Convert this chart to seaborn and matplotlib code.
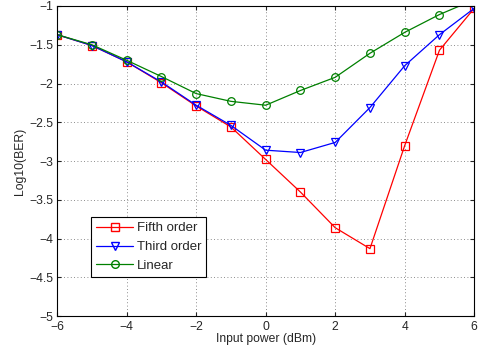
import matplotlib
matplotlib.use("Agg")
import matplotlib.pyplot as plt
from matplotlib.lines import Line2D
import pandas as pd
import seaborn as sns

power = [-6, -5, -4, -3, -2, -1, 0, 1, 2, 3, 4, 5, 6]
fifth = [-1.37, -1.51, -1.72, -1.99, -2.29, -2.56, -2.98, -3.40, -3.86, -4.13, -2.80, -1.57, -1.03]
third = [-1.37, -1.51, -1.72, -1.98, -2.28, -2.54, -2.86, -2.89, -2.76, -2.31, -1.77, -1.37, -1.03]
linear = [-1.37, -1.50, -1.70, -1.91, -2.13, -2.23, -2.28, -2.09, -1.92, -1.61, -1.34, -1.11, -0.92]

names = ['Fifth order', 'Third order', 'Linear']
colors = {'Fifth order': 'red', 'Third order': 'blue', 'Linear': 'green'}
markers = {'Fifth order': 's', 'Third order': 'v', 'Linear': 'o'}

df = pd.concat([
    pd.DataFrame({'power': power, 'ber': vals, 'scheme': name})
    for name, vals in zip(names, [fifth, third, linear])
])

sns.set_style("ticks")
plt.rcParams['font.family'] = ['Liberation Sans', 'DejaVu Sans']

fig = plt.figure(figsize=(4.8, 3.52), dpi=100)
ax = fig.add_axes([0.119, 0.102, 0.869, 0.881])

sns.lineplot(
    data=df, x='power', y='ber', hue='scheme', style='scheme',
    palette=colors, markers=markers, dashes=False, ax=ax,
    linewidth=0.9, markersize=5.5, legend=False
)
# hollow markers, edge in the line colour
for line in ax.get_lines():
    line.set_markeredgecolor(line.get_color())
    line.set_markerfacecolor('none')
    line.set_markeredgewidth(0.9)

ax.set_xlim(-6, 6)
ax.set_ylim(-5, -1)
ax.set_xticks(range(-6, 7, 2))
ax.set_yticks([-5, -4.5, -4, -3.5, -3, -2.5, -2, -1.5, -1])
ax.set_yticklabels(['\u22125', '\u22124.5', '\u22124', '\u22123.5', '\u22123',
                    '\u22122.5', '\u22122', '\u22121.5', '\u22121'])
ax.set_xticklabels(['\u22126', '\u22124', '\u22122', '0', '2', '4', '6'])
ax.grid(True, linestyle=(0, (1, 3)), color='black', linewidth=0.6, alpha=0.6)
ax.tick_params(direction='in', labelsize=8.7, length=3, top=True, right=True)
ax.tick_params(axis='x', pad=3.5)
ax.tick_params(axis='y', pad=3)
for s in ax.spines.values():
    s.set_linewidth(0.8)
    s.set_color('black')
ax.set_xlabel('Input power (dBm)', fontsize=8.7, labelpad=0)
ax.set_ylabel('Log10(BER)', fontsize=8.7, labelpad=2)

handles = [Line2D([], [], color=colors[n], marker=markers[n], markerfacecolor='none',
                  markeredgecolor=colors[n], linewidth=0.9, markersize=5.5) for n in names]
leg = ax.legend(handles, names, loc='lower left', bbox_to_anchor=(0.0815, 0.125),
                borderaxespad=0, fontsize=9.5, frameon=True, fancybox=False,
                framealpha=1, edgecolor='black', handlelength=2.75,
                handletextpad=0.3, borderpad=0.4, labelspacing=0.5)
leg.get_frame().set_linewidth(0.8)

fig.savefig('out.png', dpi=100)
